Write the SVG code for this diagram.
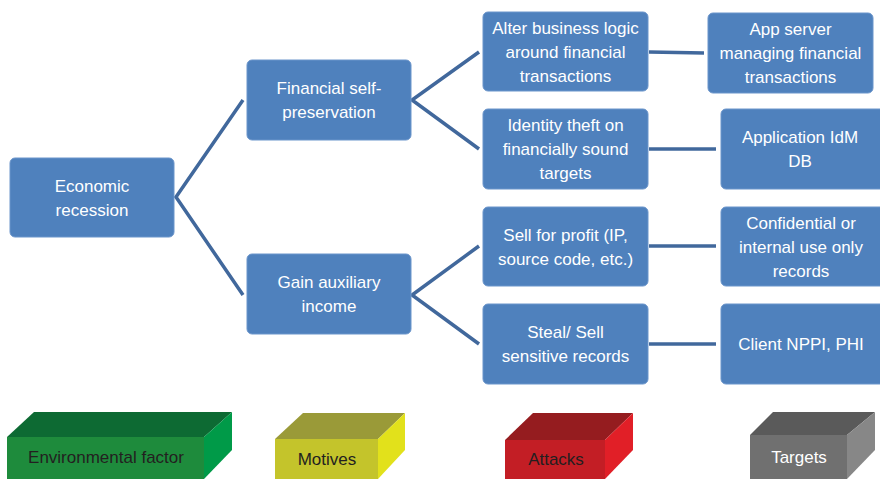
<svg xmlns="http://www.w3.org/2000/svg" width="880" height="479" viewBox="0 0 880 479">
<style>
.n{fill:#4F81BD;stroke:#6B95CB;stroke-width:1}
.t{font-family:"Liberation Sans",Arial,sans-serif;font-size:17px;fill:#fff;text-anchor:middle}
.lt{font-family:"Liberation Sans",Arial,sans-serif;font-size:17px;fill:#231F20;text-anchor:middle}
.c{fill:none;stroke:#41689C;stroke-width:3.5;stroke-linejoin:miter}
</style>
<rect width="880" height="479" fill="#fff"/>
<g id="connectors">
<polyline class="c" points="243,100 176,197 243,295"/>
<polyline class="c" points="479,52 412,100 479,149"/>
<polyline class="c" points="479,246 412,295 479,344"/>
<line class="c" x1="649" y1="52" x2="704" y2="53"/>
<line class="c" x1="649" y1="149" x2="716" y2="149"/>
<line class="c" x1="649" y1="246" x2="716" y2="246"/>
<line class="c" x1="649" y1="344" x2="716" y2="344"/>
</g>
<g id="economic-recession">
<rect class="n" x="10" y="158" width="164" height="79" rx="5"/>
<text class="t" x="92" y="191.5">Economic</text>
<text class="t" x="92" y="215.5">recession</text>
</g>
<g id="financial-self-preservation">
<rect class="n" x="247" y="60" width="164" height="80" rx="5"/>
<text class="t" x="329" y="94">Financial self-</text>
<text class="t" x="329" y="118">preservation</text>
</g>
<g id="gain-auxiliary-income">
<rect class="n" x="247" y="254" width="164" height="80" rx="5"/>
<text class="t" x="329" y="288">Gain auxiliary</text>
<text class="t" x="329" y="312">income</text>
</g>
<g id="alter-business-logic">
<rect class="n" x="483" y="12" width="165" height="79" rx="5"/>
<text class="t" x="565.5" y="33.5">Alter business logic</text>
<text class="t" x="565.5" y="57.5">around financial</text>
<text class="t" x="565.5" y="81.5">transactions</text>
</g>
<g id="identity-theft">
<rect class="n" x="483" y="109" width="165" height="80" rx="5"/>
<text class="t" x="565.5" y="131">Identity theft on</text>
<text class="t" x="565.5" y="155">financially sound</text>
<text class="t" x="565.5" y="179">targets</text>
</g>
<g id="sell-for-profit">
<rect class="n" x="483" y="207" width="165" height="79" rx="5"/>
<text class="t" x="565.5" y="240.5">Sell for profit (IP,</text>
<text class="t" x="565.5" y="264.5">source code, etc.)</text>
</g>
<g id="steal-sell">
<rect class="n" x="483" y="304" width="165" height="80" rx="5"/>
<text class="t" x="565.5" y="338">Steal/ Sell</text>
<text class="t" x="565.5" y="362">sensitive records</text>
</g>
<g id="app-server">
<rect class="n" x="708" y="13" width="165" height="80" rx="5"/>
<text class="t" x="790.5" y="35">App server</text>
<text class="t" x="790.5" y="59">managing financial</text>
<text class="t" x="790.5" y="83">transactions</text>
</g>
<g id="application-idm-db">
<rect class="n" x="721" y="109" width="165" height="80" rx="5"/>
<text class="t" x="800" y="143">Application IdM</text>
<text class="t" x="800" y="167">DB</text>
</g>
<g id="confidential-records">
<rect class="n" x="721" y="207" width="165" height="79" rx="5"/>
<text class="t" x="801" y="228.5">Confidential or</text>
<text class="t" x="801" y="252.5">internal use only</text>
<text class="t" x="801" y="276.5">records</text>
</g>
<g id="client-nppi-phi">
<rect class="n" x="721" y="304" width="165" height="80" rx="5"/>
<text class="t" x="801" y="350">Client NPPI, PHI</text>
</g>
<g id="legend-environmental">
<polygon points="7,437 34,412 232,412 204,437" fill="#0D6A33"/>
<polygon points="204,437 232,412 232,450 204,479" fill="#009A48"/>
<rect x="7" y="437" width="197" height="42" fill="#1E8B3C"/>
<text class="lt" x="106" y="463">Environmental factor</text>
</g>
<g id="legend-motives">
<polygon points="275,439 303,413 405,413 378,439" fill="#9A9A38"/>
<polygon points="378,439 405,413 405,450 378,479" fill="#E2E11B"/>
<rect x="275" y="439" width="103" height="40" fill="#C4C42B"/>
<text class="lt" x="327" y="465">Motives</text>
</g>
<g id="legend-attacks">
<polygon points="505,440 533,413 633,413 605,440" fill="#951C1F"/>
<polygon points="605,440 633,413 633,450 605,479" fill="#E11F27"/>
<rect x="505" y="440" width="100" height="39" fill="#C31E25"/>
<text class="lt" x="556" y="465">Attacks</text>
</g>
<g id="legend-targets">
<polygon points="750,435 773,412 875,412 847,435" fill="#5A5A5A"/>
<polygon points="847,435 875,412 875,450 847,479" fill="#878787"/>
<rect x="750" y="435" width="97" height="44" fill="#707070"/>
<text class="t" x="799" y="463">Targets</text>
</g>
</svg>
